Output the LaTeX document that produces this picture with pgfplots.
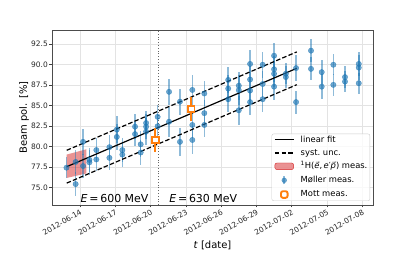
\documentclass[border=0pt]{standalone}
\usepackage{fontspec}
\setmainfont{DejaVu Sans}
\usepackage{pgfplots}
\pgfplotsset{compat=1.18}
\definecolor{mblue}{HTML}{1F77B4}
\definecolor{morange}{HTML}{FF7F0E}
\definecolor{mred}{HTML}{D62728}
\begin{document}
\begin{tikzpicture}
\path[use as bounding box] (0,0) rectangle (415bp,257bp);
\begin{axis}[
  at={(52bp,52bp)}, anchor=south west,
  scale only axis, width=321bp, height=175bp,
  xmin=-2.38, xmax=24.91, ymin=72.9, ymax=94.24,
  xtick={0,3,6,9,12,15,18,21,24},
  xticklabels={2012-06-14,2012-06-17,2012-06-20,2012-06-23,2012-06-26,2012-06-29,2012-07-02,2012-07-05,2012-07-08},
  ytick={75,77.5,80,82.5,85,87.5,90,92.5},
  /pgf/number format/assume math mode=true,
  yticklabel={\pgfmathprintnumber[fixed,fixed zerofill,precision=1]{\tick}},
  ticklabel style={font=\fontsize{7.5}{8}\selectfont, text=black!85},
  xticklabel style={rotate=30, anchor=north east, inner sep=1bp},
  yticklabel style={inner sep=1.5bp},
  tick align=outside, tick pos=left, major tick length=2.5bp,
  tick style={black!75, line width=0.6bp},
  grid=major, grid style={black!11, line width=0.6bp},
  axis line style={black!70, line width=0.8bp},
  xlabel={\textit{t} [date]}, ylabel={Beam pol. [\%]},
  label style={font=\fontsize{10}{12}\selectfont},
  xlabel style={at={(axis description cs:0.5,-0.229)}, anchor=center},
  ylabel style={at={(axis description cs:-0.087,0.5)}, anchor=center},
  legend cell align=left,
  legend style={at={(axis description cs:0.991,0.023)}, anchor=south east,
    draw=black!20, rounded corners=2bp, fill=white, fill opacity=0.8, text opacity=1,
    font=\fontsize{8.4}{9}\selectfont, inner xsep=2.5bp, inner ysep=2bp,
    row sep=5.2bp, column sep=6.5bp,
    nodes={inner sep=0pt, text height=6.2bp, text depth=1.8bp}},
]
% red band
\addplot[forget plot, draw=none, fill=mred, fill opacity=0.5]
  coordinates {(-1.13,76.2) (0.55,76.75) (0.55,79.7) (-1.13,79.05)} -- cycle;
% energy change
\addplot[forget plot, black!60, dotted, line width=0.8bp] coordinates {(6.7,72.9) (6.7,94.24)};
% Moller
\addplot[forget plot, only marks, mark=*, mark size=2.7bp, mblue,
  mark options={fill=mblue, draw=none, opacity=0.65},
  error bars/.cd, y dir=both, y explicit, error mark=none,
  error bar style={mblue, opacity=0.5, line width=1.6bp}]
  table[x=x, y=y, y error=e] {
x y e
-1.15 77.45 1.3
-0.37 78.15 1.5
-0.37 75.45 1.5
0.26 80.6 1.6
0.26 77.65 1.5
0.8 78.4 1.5
0.8 78.1 1.5
1.39 79.6 1.5
1.39 78.45 1.4
2.5 79.95 1.5
2.5 78.65 1.5
3.13 82.1 1.6
3.13 81.2 1.6
3.6 79.6 1.5
3.6 79.05 1.5
4.68 82.45 1.5
4.68 81.55 1.5
5.16 80.3 1.6
5.16 79.3 1.5
5.62 82.9 1.5
5.62 82.45 1.5
5.62 81.85 1.6
6.6 83.65 1.5
6.6 82.5 1.5
7.57 86.7 1.6
7.57 83.05 1.8
8.5 85.5 1.6
8.5 80.6 1.7
9.55 86.93 1.8
9.55 82.66 1.6
9.55 80.83 1.7
10.57 86.5 1.5
10.57 84.1 1.6
10.57 82.66 1.5
12.6 88.15 1.6
12.6 87.1 1.6
12.6 85.8 1.6
13.5 87.45 1.7
13.5 86.9 1.8
13.5 84.45 1.8
14.46 90.1 1.7
14.46 88.2 1.6
14.46 86.85 1.6
14.46 85.45 1.6
15.53 90.0 1.6
15.53 87.65 1.6
15.53 85.8 1.5
16.5 91.1 1.6
16.5 89.45 1.6
16.5 88.9 1.6
16.5 87.33 1.6
17.5 88.9 1.3
17.5 88.5 1.3
18.37 89.6 1.6
18.37 85.45 1.4
19.64 91.72 1.4
19.64 89.5 1.4
20.55 89.1 1.5
20.55 87.33 1.5
21.54 90.0 1.3
21.54 87.55 1.3
22.53 88.5 1.3
22.53 87.95 1.3
23.7 90.1 1.5
23.7 89.65 1.5
23.7 87.75 1.3
};
% fit
\addplot[forget plot, black, line width=1.2bp] coordinates {(-1.13,77.57) (18.43,89.57)};
\addplot[forget plot, black, line width=1.2bp, dash pattern=on 4.5bp off 2.2bp] coordinates {(-1.13,79.57) (18.43,91.57)};
\addplot[forget plot, black, line width=1.2bp, dash pattern=on 4.5bp off 2.2bp] coordinates {(-1.13,75.57) (18.43,87.57)};
% Mott
\addplot[forget plot, only marks, mark=square*, mark size=3.3bp, morange,
  mark options={fill=white, draw=morange, line width=1.9bp},
  error bars/.cd, y dir=both, y explicit, error mark=none,
  error bar style={morange, line width=1.6bp}]
  table[x=x, y=y, y error=e] {
x y e
6.4 80.83 1.5
9.45 84.6 1.5
};
\node[anchor=base west, font=\fontsize{11}{13}\selectfont] at (axis cs:-0.25,73.25) {\textit{E}\,=\,600 MeV};
\node[anchor=base west, font=\fontsize{11}{13}\selectfont] at (axis cs:7.29,73.25) {\textit{E}\,=\,630 MeV};
% legend
\addlegendimage{legend image code/.code={\draw[black, line width=1.2bp] (0bp,0bp) -- (18.7bp,0bp);}}
\addlegendentry{linear fit}
\addlegendimage{legend image code/.code={\draw[black, line width=1.2bp, dash pattern=on 4.5bp off 2.2bp] (0bp,0bp) -- (18.7bp,0bp);}}
\addlegendentry{syst.\ unc.}
\addlegendimage{legend image code/.code={\fill[mred, fill opacity=0.5] (0bp,-3.3bp) rectangle (18.7bp,3.3bp);}}
\addlegendentry{\textsuperscript{1}H(\(\vec{\mbox{\itshape e}}\),\,\textit{e}′\(\vec{\mbox{\itshape p}}\)) meas.}
\addlegendimage{legend image code/.code={\draw[mblue, opacity=0.5, line width=1.6bp] (9.35bp,-4bp) -- (9.35bp,4bp); \fill[mblue, opacity=0.65] (9.35bp,0bp) circle (2.4bp);}}
\addlegendentry{Møller meas.}
\addlegendimage{legend image code/.code={\draw[morange, fill=white, line width=1.9bp] (6.1bp,-3.3bp) rectangle (12.7bp,3.3bp);}}
\addlegendentry{Mott meas.}
\end{axis}
\end{tikzpicture}
\end{document}
